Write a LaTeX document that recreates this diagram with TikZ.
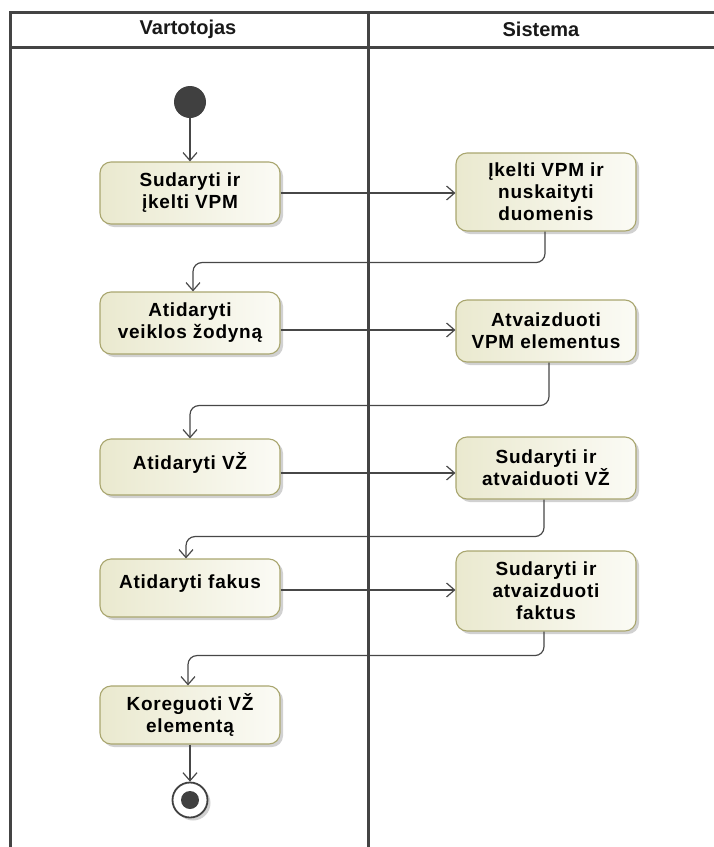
\documentclass[tikz,border=0pt]{standalone}
\usepackage{fontspec}
\setmainfont{Liberation Sans}
\usetikzlibrary{arrows.meta,shadows,calc}

\definecolor{frame}{HTML}{444444}
\definecolor{wire}{HTML}{474747}
\definecolor{actborder}{HTML}{A9A66F}
\definecolor{actL}{HTML}{EAE9CF}
\definecolor{actR}{HTML}{FBFBF5}
\definecolor{dot}{HTML}{404040}

\begin{document}
\begin{tikzpicture}[x=1pt,y=-1pt,
  lane/.style={draw=frame, line width=3pt},
  lanehead/.style={font=\fontsize{20}{22}\selectfont\bfseries, text=black!90, inner sep=0pt},
  act/.style={draw=actborder, line width=1.1pt, rounded corners=11pt,
    left color=actL, right color=actR, minimum width=180pt, align=center, inner sep=2pt,
    font=\fontsize{19}{22}\selectfont\bfseries\addfontfeature{LetterSpace=4},
    drop shadow={shadow xshift=3pt, shadow yshift=-3pt, fill=black!45, opacity=0.4}},
  flow/.style={draw=wire, line width=1.2pt, -{Straight Barb[length=8pt,width=14pt]}, rounded corners=9pt},
  startdot/.style={circle, fill=dot, minimum size=32pt, inner sep=0pt},
  endring/.style={circle, draw=dot, line width=1.8pt, fill=white, minimum size=35pt, inner sep=0pt,
    drop shadow={shadow xshift=3pt, shadow yshift=-3pt, fill=black!45, opacity=0.4}},
  enddot/.style={circle, fill=dot, minimum size=18pt, inner sep=0pt},
]
\useasboundingbox (0,0) rectangle (714,847);

% lane headers
\node[lanehead] (hUser) at (188,29) {Vartotojas};
\node[lanehead] (hSys) at (541,29) {Sistema};

% user lane actions
\node[startdot] (start) at (190,102) {};
\node[act, minimum height=62pt] (a1) at (190,193) {Sudaryti ir\\įkelti VPM};
\node[act, minimum height=62pt] (a2) at (190,323) {Atidaryti\\veiklos žodyną};
\node[act, minimum height=56pt, text depth=12pt] (a3) at (190,467) {Atidaryti VŽ};
\node[act, minimum height=58pt, text depth=12pt] (a4) at (190,588) {Atidaryti fakus};
\node[act, minimum height=58pt] (a5) at (190,715) {Koreguoti VŽ\\elementą};
\node[endring] (end) at (190,800) {};
\node[enddot] (endin) at (end.center) {};

% system lane actions
\node[act, minimum height=78pt] (s1) at (546,192) {Įkelti VPM ir\\nuskaityti\\duomenis};
\node[act, minimum height=62pt] (s2) at (546,331) {Atvaizduoti\\VPM elementus};
\node[act, minimum height=62pt] (s3) at (546,468) {Sudaryti ir\\atvaiduoti VŽ};
\node[act, minimum height=80pt] (s4) at (546,591) {Sudaryti ir\\atvaizduoti\\faktus};

% control flow
\draw[flow] (start) -- (a1);
\draw[flow] (a1.east) -- (a1.east -| s1.west);
\draw[flow] ([xshift=-1pt]s1.south) -- ++(0,31) -| ([xshift=3pt]a2.north);
\draw[flow] ([yshift=-7pt]a2.east) -- ([yshift=-7pt]a2.east -| s2.west);
\draw[flow] ([xshift=3pt]s2.south) -- ++(0,43) -| (a3.north);
\draw[flow] ([yshift=-6pt]a3.east) -- ([yshift=-6pt]a3.east -| s3.west);
\draw[flow] ([xshift=-2pt]s3.south) -- ++(0,37) -| ([xshift=-4pt]a4.north);
\draw[flow] ([yshift=-2pt]a4.east) -- ([yshift=-2pt]a4.east -| s4.west);
\draw[flow] ([xshift=-2pt]s4.south) -- ++(0,24) -| ([xshift=-2pt]a5.north);
\draw[flow] (a5) -- (end);

% swimlane frame
\draw[lane] (10,850) -- (10,12) -- (720,12);
\draw[lane] (10,47) -- (720,47);
\draw[lane] (368,12) -- (368,850);
\end{tikzpicture}
\end{document}
